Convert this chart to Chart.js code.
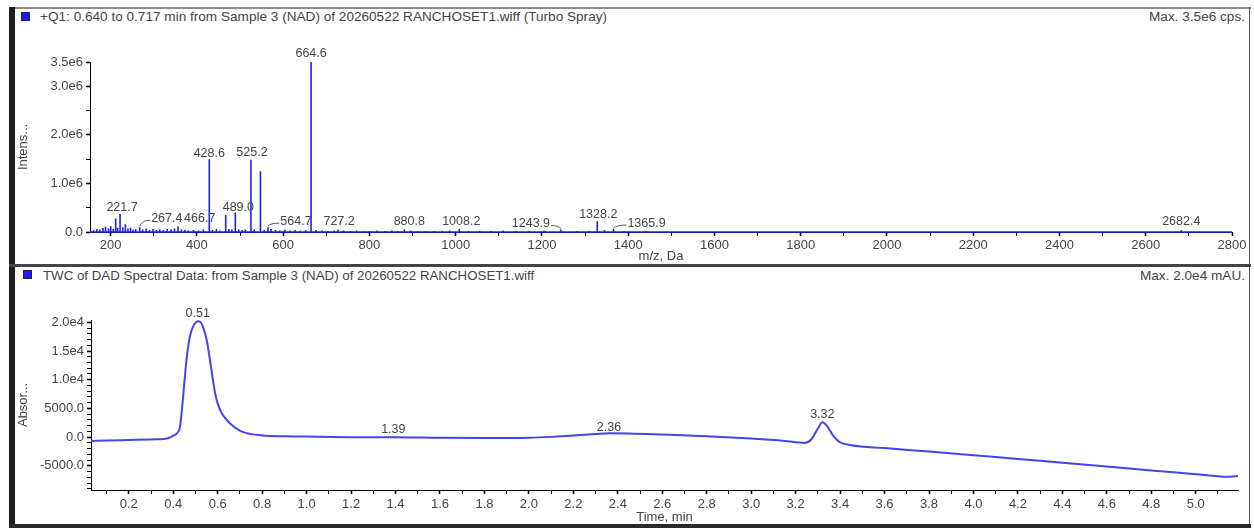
<!DOCTYPE html>
<html>
<head>
<meta charset="utf-8">
<script src="https://cdn.jsdelivr.net/npm/chart.js@4.4.0/dist/chart.umd.min.js"></script>
<style>
    body { margin: 0; width: 1254px; height: 529px; background: #fff; position: relative; overflow: hidden;
           font-family: "Liberation Sans", Arial, sans-serif; }
    .line { position: absolute; }
    .title { position: absolute; font-size: 13.6px; color: #444; white-space: nowrap; line-height: 14px; }
    .swatch { position: absolute; width: 7px; height: 7px; background: #1a1aff; border: 1px solid #223; }
    canvas { position: absolute; left: 0; }
</style>
</head>
<body>
<div class="line" style="left:9px; top:7px; width:1242px; height:2px; background:#8a8a8a;"></div>
<div class="line" style="left:9px; top:7px; width:6px; height:521px; background:#1e1e1e;"></div>
<div class="line" style="left:1249px; top:7px; width:1px; height:521px; background:#555;"></div>
<div class="line" style="left:9px; top:264px; width:1242px; height:3px; background:#444;"></div>
<div class="line" style="left:9px; top:524px; width:1242px; height:4px; background:#2a2a2a;"></div>

<div class="swatch" style="left:21px; top:12px;"></div>
<div class="title" style="left:40px; top:10px;">+Q1: 0.640 to 0.717 min from Sample 3 (NAD) of 20260522 RANCHOSET1.wiff (Turbo Spray)</div>
<div class="title" style="right:9px; top:10px;">Max. 3.5e6 cps.</div>

<div class="swatch" style="left:23px; top:270px;"></div>
<div class="title" style="left:43px; top:269px; font-size:13.3px;">TWC of DAD Spectral Data: from Sample 3 (NAD) of 20260522 RANCHOSET1.wiff</div>
<div class="title" style="right:9px; top:269px;">Max. 2.0e4 mAU.</div>

<canvas id="ms-chart" width="1254" height="224" style="top:40px;"></canvas>
<canvas id="dad-chart" width="1254" height="239" style="top:290px;"></canvas>

<script>
// Mass spectrum (sticks), m/z and intensity in cps
const mzValues = [160, 168, 175, 182, 188, 195, 200, 206, 211.5, 216, 221.7, 228, 234, 240, 246, 252, 258, 267.4,
    274, 282, 290, 298, 306, 314, 322, 331, 340, 348, 356, 364, 372, 380, 392, 404, 415, 428.6, 436, 445, 453,
    466.7, 474, 481, 489.0, 497, 505, 512, 525.2, 533, 547.2, 556, 564.7, 572, 582, 592, 604, 616, 628, 640, 652,
    664.6, 676, 690, 704, 718, 727.2, 740, 756, 770, 786, 800, 818, 836, 852, 866, 880.8, 896, 912, 930, 950, 968,
    986, 1008.2, 1030, 1056, 1082, 1110, 1140, 1170, 1205, 1243.9, 1280, 1310, 1328.2, 1345, 1365.9, 1390, 1440,
    1520, 1620, 1740, 1830, 2000, 2240, 2400, 2550, 2682.4, 2720];
const intensities = [0.04e6, 0.06e6, 0.05e6, 0.08e6, 0.11e6, 0.07e6, 0.12e6, 0.06e6, 0.28e6, 0.09e6, 0.37e6, 0.10e6,
    0.16e6, 0.07e6, 0.09e6, 0.05e6, 0.06e6, 0.10e6, 0.05e6, 0.07e6, 0.04e6, 0.06e6, 0.04e6, 0.05e6, 0.04e6, 0.06e6,
    0.05e6, 0.07e6, 0.12e6, 0.05e6, 0.04e6, 0.03e6, 0.04e6, 0.03e6, 0.05e6, 1.50e6, 0.04e6, 0.06e6, 0.03e6,
    0.35e6, 0.06e6, 0.05e6, 0.40e6, 0.05e6, 0.04e6, 0.05e6, 1.49e6, 0.05e6, 1.25e6, 0.04e6, 0.10e6, 0.06e6, 0.04e6,
    0.03e6, 0.05e6, 0.03e6, 0.04e6, 0.03e6, 0.04e6, 3.50e6, 0.04e6, 0.03e6, 0.02e6, 0.03e6, 0.05e6, 0.03e6, 0.02e6,
    0.03e6, 0.02e6, 0.02e6, 0.03e6, 0.02e6, 0.03e6, 0.02e6, 0.05e6, 0.03e6, 0.02e6, 0.02e6, 0.02e6, 0.02e6,
    0.03e6, 0.06e6, 0.02e6, 0.02e6, 0.02e6, 0.03e6, 0.02e6, 0.02e6, 0.03e6, 0.05e6, 0.02e6, 0.02e6, 0.22e6, 0.04e6,
    0.06e6, 0.02e6, 0.02e6, 0.01e6, 0.01e6, 0.01e6, 0.015e6, 0.01e6, 0.015e6, 0.01e6, 0.01e6, 0.04e6, 0.01e6];
const labelledPeaks = [221.7, 267.4, 428.6, 466.7, 489.0, 525.2, 564.7, 664.6, 727.2, 880.8, 1008.2, 1243.9, 1328.2, 1365.9, 2682.4];
const mzTickLabels = [200, 400, 600, 800, 1000, 1200, 1400, 1600, 1800, 2000, 2200, 2400, 2600, 2800];
const intensTickLabels = [0, 1.0e6, 2.0e6, 3.0e6, 3.5e6];

// DAD chromatogram (TWC), time in min, absorbance in mAU
const timeValues = [0.03, 0.1, 0.2, 0.3, 0.36, 0.38, 0.4, 0.42, 0.43, 0.44, 0.45, 0.46, 0.47, 0.48, 0.49, 0.5, 0.51,
    0.52, 0.53, 0.55, 0.57, 0.59, 0.61, 0.64, 0.67, 0.7, 0.73, 0.8, 0.9, 1.0, 1.2, 1.39, 1.6, 1.8, 2.0, 2.1, 2.2,
    2.3, 2.36, 2.45, 2.6, 2.8, 3.0, 3.15, 3.24, 3.27, 3.3, 3.32, 3.34, 3.37, 3.4, 3.45, 3.6, 3.8, 4.0, 4.2, 4.4,
    4.6, 4.8, 5.0, 5.1, 5.14, 5.19];
const absorbance = [-650, -600, -500, -400, -300, -150, 250, 800, 1700, 5200, 9500, 13600, 16500, 18300, 19300, 19900,
    20200, 20100, 19600, 17000, 12200, 7300, 4800, 3000, 1900, 1150, 700, 300, 150, 100, 0, 0, -100, -150, -100, 50,
    300, 550, 700, 650, 450, 150, -250, -650, -1000, -400, 1500, 2600, 2000, 200, -900, -1400, -1900, -2500, -3150,
    -3800, -4450, -5100, -5800, -6450, -6800, -6900, -6750];
const labelledTimes = [0.51, 1.39, 2.36, 3.32];
const timeTickLabels = [0.2, 0.4, 0.6, 0.8, 1.0, 1.2, 1.4, 1.6, 1.8, 2.0, 2.2, 2.4, 2.6, 2.8, 3.0, 3.2, 3.4, 3.6,
    3.8, 4.0, 4.2, 4.4, 4.6, 4.8, 5.0];
const absTickLabels = [-5000, 0, 5000, 10000, 15000, 20000];

const textColor = '#444';
Chart.defaults.font.family = '"Liberation Sans", Arial, sans-serif';
Chart.defaults.font.size = 13;
Chart.defaults.color = textColor;

// Minor ticks halfway between the labelled ones
function withMinor(major, step) {
    const all = [];
    major.forEach(v => { all.push(v); all.push(+(v + step).toFixed(4)); });
    all.unshift(+(major[0] - step).toFixed(4));
    return all;
}

function stickPoints(xs, ys, xMin, xMax) {
    const pts = [{x: xMin, y: 0}];
    xs.forEach((x, i) => { pts.push({x, y: 0}, {x, y: ys[i]}, {x, y: 0}); });
    pts.push({x: xMax, y: 0});
    return pts;
}

// keep the plot area exactly where the layout padding puts it
const noOverflowX = h => s => { s.height = h; s.paddingLeft = 0; s.paddingRight = 0; };
const noOverflowY = w => s => { s.width = w; s.paddingTop = 0; s.paddingBottom = 0; };

// Draws the peak annotations over the traces
const peakLabelPlugin = {
    id: 'peakLabels',
    afterDatasetsDraw(chart, args, opts) {
        const {ctx, scales: {x, y}} = chart;
        ctx.save();
        ctx.font = '12.5px "Liberation Sans", Arial, sans-serif';
        ctx.fillStyle = textColor;
        ctx.strokeStyle = '#555';
        ctx.lineWidth = 1;
        ctx.textAlign = 'center';
        ctx.textBaseline = 'middle';
        opts.items.forEach(item => {
            const px = x.getPixelForValue(item.x);
            const py = y.getPixelForValue(item.y);
            const lx = px + (item.dx || 0);
            const ly = py + (item.dy === undefined ? -8 : item.dy);
            ctx.fillText(item.text, lx, ly);
            if (item.leader) {
                const half = ctx.measureText(item.text).width / 2;
                const ex = item.dx > 0 ? lx - half - 1 : lx + half + 1;
                ctx.beginPath();
                ctx.moveTo(px, py - 1);
                ctx.quadraticCurveTo(px + (ex - px) * 0.2, ly + 2, ex, ly + 2);
                ctx.stroke();
            }
        });
        ctx.restore();
    }
};

const msOffsets = {
    221.7: {dx: 2, dy: -6}, 267.4: {dx: 27, dy: -9, leader: true}, 428.6: {dx: 0, dy: -6},
    466.7: {dx: -26, dy: 4}, 489.0: {dx: 3, dy: -5}, 525.2: {dx: 1, dy: -7}, 564.7: {dx: 28, dy: -6, leader: true},
    664.6: {dx: 0, dy: -8}, 727.2: {dx: 1}, 880.8: {dx: 5}, 1008.2: {dx: 2}, 1243.9: {dx: -30, dy: -6, leader: true},
    1328.2: {dx: 1, dy: -7}, 1365.9: {dx: 33, dy: -6, leader: true}, 2682.4: {dx: 0, dy: -9}
};

const majorTickWidth = (labels) => (ctx) => labels.some(v => Math.abs(v - ctx.tick.value) < 1e-6) ? 1.6 : 1;

function initializeMassSpectrum() {
    const items = labelledPeaks.map(mz => Object.assign({
        x: mz, y: intensities[mzValues.indexOf(mz)], text: mz.toFixed(1)
    }, msOffsets[mz]));

    new Chart(document.getElementById('ms-chart'), {
        type: 'scatter',
        data: {
            datasets: [{
                data: stickPoints(mzValues, intensities, 152, 2800),
                showLine: true,
                borderColor: '#1f1ff2',
                borderWidth: 1.6,
                pointRadius: 0,
                clip: false
            }]
        },
        options: {
            responsive: false,
            animation: false,
            layout: { padding: { left: 16, right: 22, top: 22, bottom: 0 } },
            plugins: {
                legend: { display: false },
                tooltip: { enabled: false },
                peakLabels: { items }
            },
            scales: {
                x: {
                    type: 'linear', min: 152, max: 2800,
                    afterBuildTicks: s => { s.ticks = withMinor(mzTickLabels, 100).filter(v => v > 152 && v <= 2800).map(v => ({value: v})); },
                    afterFit: noOverflowX(32),
                    ticks: { autoSkip: false, maxRotation: 0, padding: 2,
                             callback: v => mzTickLabels.includes(v) ? String(v) : '' },
                    grid: { drawOnChartArea: false, tickLength: 4, tickColor: '#000', tickWidth: majorTickWidth(mzTickLabels) },
                    border: { color: '#000', width: 1 },
                    title: { display: true, text: 'm/z, Da', padding: { top: 0, bottom: 0 } }
                },
                y: {
                    min: 0, max: 3.5e6,
                    afterBuildTicks: s => { s.ticks = [0, 0.5e6, 1e6, 1.5e6, 2e6, 2.5e6, 3e6, 3.5e6].map(v => ({value: v})); },
                    afterFit: noOverflowY(74),
                    ticks: { autoSkip: false, padding: 3,
                             callback: v => v === 0 ? '0.0' : intensTickLabels.includes(v) ? (v / 1e6).toFixed(1) + 'e6' : '' },
                    grid: { drawOnChartArea: false, tickLength: 4, tickColor: '#000', tickWidth: majorTickWidth(intensTickLabels) },
                    border: { color: '#000', width: 1 },
                    title: { display: true, text: 'Intens...', padding: { top: 0, bottom: 0 } }
                }
            }
        },
        plugins: [peakLabelPlugin]
    });
}

function initializeChromatogram() {
    const items = labelledTimes.map(t => ({
        x: t, y: absorbance[timeValues.indexOf(t)], text: t.toFixed(2), dy: t === 2.36 ? -6 : -8
    }));
    const absMinor = [];
    for (let v = -9000; v <= 20000; v += 1000) absMinor.push(v);

    new Chart(document.getElementById('dad-chart'), {
        type: 'scatter',
        data: {
            datasets: [{
                data: timeValues.map((t, i) => ({x: t, y: absorbance[i]})),
                showLine: true,
                borderColor: '#4444ee',
                borderWidth: 2,
                pointRadius: 0,
                cubicInterpolationMode: 'monotone'
            }]
        },
        options: {
            responsive: false,
            animation: false,
            layout: { padding: { left: 16, right: 16, top: 30, bottom: 4 } },
            plugins: {
                legend: { display: false },
                tooltip: { enabled: false },
                peakLabels: { items }
            },
            scales: {
                x: {
                    type: 'linear', min: 0.03, max: 5.19,
                    afterBuildTicks: s => { s.ticks = withMinor(timeTickLabels, 0.1).map(v => ({value: v})); },
                    afterFit: noOverflowX(35),
                    ticks: { autoSkip: false, maxRotation: 0, padding: 3,
                             callback: v => timeTickLabels.some(l => Math.abs(l - v) < 1e-6) ? v.toFixed(1) : '' },
                    grid: { drawOnChartArea: false, tickLength: 4, tickColor: '#000', tickWidth: majorTickWidth(timeTickLabels) },
                    border: { color: '#000', width: 1 },
                    title: { display: true, text: 'Time, min', padding: { top: 0, bottom: 0 } }
                },
                y: {
                    min: -9200, max: 20400,
                    afterBuildTicks: s => { s.ticks = absMinor.map(v => ({value: v})); },
                    afterFit: noOverflowY(75),
                    ticks: { autoSkip: false, padding: 3,
                             callback: v => !absTickLabels.includes(v) ? '' : Math.abs(v) >= 10000 ? (v / 1e4).toFixed(1) + 'e4' : v.toFixed(1) },
                    grid: { drawOnChartArea: false, tickLength: 4, tickColor: '#000', tickWidth: majorTickWidth(absTickLabels) },
                    border: { color: '#000', width: 1 },
                    title: { display: true, text: 'Absor...', padding: { top: 0, bottom: 0 } }
                }
            }
        },
        plugins: [peakLabelPlugin]
    });
}

document.addEventListener('DOMContentLoaded', () => {
    initializeMassSpectrum();
    initializeChromatogram();
});
</script>
</body>
</html>
